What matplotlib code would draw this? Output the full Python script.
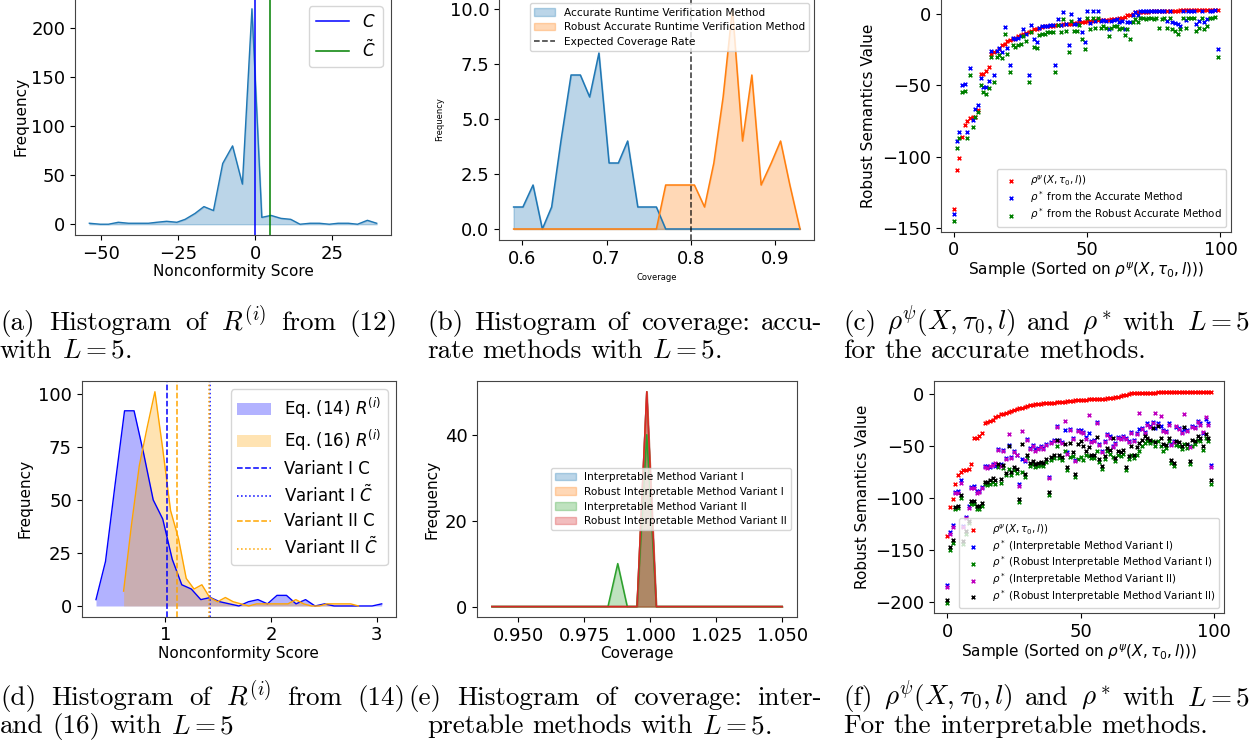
import numpy as np
import matplotlib
matplotlib.use('Agg')
import matplotlib.pyplot as plt
from matplotlib.ticker import FormatStrFormatter

W, H = 1255, 751

# (a) histogram of R^(i) from (12)
a_bins = [-53.8, -50.3, -47.6, -44.4, -41.1, -37.9, -34.6, -31.9, -28.7, -25.4,
          -22.7, -19.5, -16.6, -13.5, -10.5, -7.3, -4.1, -1.0, 2.2, 5.2,
          8.4, 11.6, 14.6, 17.9, 20.9, 24.1, 27.0, 30.3, 33.3, 36.5, 39.5]
a_counts = [1, 0, 0, 2, 1, 1, 1, 2, 3, 2, 5, 11, 18, 14, 62, 80, 41, 220, 7, 9,
            6, 5, 0, 1, 1, 0, 1, 1, 0, 4, 1]
a_C = 0.0
a_Ct = 4.9

# (b) coverage, accurate methods
b_bins = [0.590, 0.601, 0.613, 0.624, 0.635, 0.646, 0.658, 0.669, 0.680, 0.691,
          0.703, 0.714, 0.725, 0.737, 0.748, 0.759, 0.770, 0.782, 0.793, 0.804,
          0.816, 0.827, 0.838, 0.849, 0.861, 0.872, 0.883, 0.895, 0.906, 0.917, 0.929]
b_acc = [1, 1, 2, 0, 1, 4, 7, 7, 6, 8, 3, 3, 4, 1, 1, 1, 0, 0, 0, 0,
         0, 0, 0, 0, 0, 0, 0, 0, 0, 0, 0]
b_rob = [0, 0, 0, 0, 0, 0, 0, 0, 0, 0, 0, 0, 0, 0, 0, 0, 2, 2, 2, 2,
         1, 3, 6, 10, 4, 7, 2, 3, 4, 2, 0]
b_expected = 0.8

# (c) / (f) robust semantics, sorted samples
rho_psi = [-136.5, -109, -101, -86, -78, -75, -73, -72.5, -72, -67.5,
           -42.5, -42, -40, -37, -28, -27, -26, -24.5, -22, -21,
           -19, -18.5, -17.5, -17, -16, -15, -14, -13.5, -13, -12,
           -11, -10.5, -10, -9.5, -9, -8.8, -8.6, -8.4, -8.2, -8,
           -7.8, -7.6, -7.4, -7.2, -7, -6.6, -6.3, -6, -5.8, -5.6,
           -5.4, -5.2, -5, -4.8, -4.6, -4.5, -4.4, -4.3, -4.2, -4,
           -3.8, -3.5, -3.2, -2.9, -2.2, -1.2, -1, -0.5, 0.8, 1,
           1.1, 1.2, 1.3, 1.4, 1.5, 1.6, 1.7, 1.8, 1.8, 1.9,
           1.9, 2.0, 2.0, 2.1, 2.1, 2.2, 2.2, 2.3, 2.3, 2.4,
           2.4, 2.5, 2.5, 2.6, 2.6, 2.7, 2.7, 2.8, 2.8, 2.8]
c_accurate = [-140, -89, -83, -50, -49, -83, -38, -74.5, -67, -64,
              -45, -51, -51, -47, -26, -43, -26, -24, -27, -9.5,
              -24, -36, -17, -18, -17, -16, -11, -14, -43, -8,
              -18, -20, -10, -9, -9, -9, -8, -8, -36, -3.5,
              -8, 1, -7, -22, 0, -7, -7, -3.5, -13, -20,
              2, -6.5, 2, -5, 2, -5, -4.5, -5, -11, -5,
              -4.5, -4, -6, -5, -10.5, -6, -6, -1, 1, -1,
              1.5, 2, 1.5, 2, 2, 2, 2, 2, 1.5, 2,
              -5, 2, -6, -6.5, -7, -9, 2, -4.5, 2, 2,
              2, -7, -5, 2, -6, -4, 2, 2, 2.5, -25]
c_robust = [-145, -94, -87, -55, -54, -87, -43, -79, -72, -69,
            -50, -55, -56, -52, -30, -48, -30, -29, -31, -14,
            -28, -41, -22, -23, -22, -21, -16, -19, -48, -13,
            -23, -24, -15, -14, -14, -13, -13, -13, -41, -8,
            -13, -4, -12, -27, -5, -12, -12, -8, -18, -25,
            -3, -11, -3, -10, -3, -10, -9, -10, -16, -10,
            -9, -9, -11, -10, -15, -11, -18, -6, -4, -6,
            -3, -3, -4, -3, -3, -4, -3, -10, -4, -3,
            -10, -3, -11, -12, -14, -11, -3, -10, -3, -3,
            -3, -12, -10, -3, -11, -9, -3, -3, -2.5, -30]

# (d) histograms of R^(i) from (14) and (16)
d14_bins = [0.345, 0.435, 0.525, 0.615, 0.705, 0.795, 0.886, 0.976, 1.066, 1.156,
            1.246, 1.336, 1.426, 1.516, 1.606, 1.696, 1.786, 1.876, 1.966, 2.056,
            2.146, 2.236, 2.326, 2.416, 2.506, 2.596, 2.686, 2.776, 2.866, 2.956, 3.046]
d14_counts = [3, 21, 57, 92, 92, 72, 50, 41, 22, 10, 8, 3, 4, 2, 1, 0, 2, 3, 1, 5,
              5, 1, 3, 0, 1, 0, 0, 0, 0, 0, 1]
d16_bins = [0.606, 0.680, 0.754, 0.828, 0.902, 0.976, 1.050, 1.124, 1.198, 1.272,
            1.346, 1.420, 1.494, 1.568, 1.642, 1.716, 1.790, 1.864, 1.938, 2.012,
            2.086, 2.160, 2.234, 2.308, 2.382, 2.456, 2.530, 2.604, 2.678, 2.752, 2.826]
d16_counts = [7, 38, 66, 84, 101, 74, 45, 32, 13, 8, 10, 4, 2, 4, 2, 1, 0, 1, 1, 1,
              1, 1, 3, 1, 0, 0, 1, 1, 1, 1, 0]
d_C1, d_Ct1 = 1.016, 1.42
d_C2, d_Ct2 = 1.11, 1.41

# (e) coverage, interpretable methods
e_bins = [0.9400, 0.9437, 0.9473, 0.9510, 0.9547, 0.9583, 0.9620, 0.9657, 0.9693, 0.9730,
          0.9767, 0.9803, 0.9840, 0.9877, 0.9913, 0.9950, 0.9987, 1.0023, 1.0060, 1.0097,
          1.0133, 1.0170, 1.0207, 1.0243, 1.0280, 1.0317, 1.0353, 1.0390, 1.0427, 1.0463, 1.0500]
e_var1 = [0] * 16 + [50] + [0] * 14
e_rob1 = [0] * 16 + [50] + [0] * 14
e_var2 = [0] * 13 + [10, 0, 0, 40] + [0] * 14
e_rob2 = [0] * 16 + [50] + [0] * 14
e_labels = ['Interpretable Method Variant I', 'Robust Interpretable Method Variant I',
            'Interpretable Method Variant II', 'Robust Interpretable Method Variant II']

# (f) rho* for the interpretable methods
f_var1 = [-184, -133, -126, -94, -93, -83, -127, -118, -108, -89,
          -88, -93, -93, -89, -69, -69, -70, -67, -69, -53,
          -67, -54, -61, -49, -60, -55, -58, -86, -62, -64,
          -43, -52, -49, -53, -52, -50, -52, -48, -80, -46,
          -44, -30, -44, -46, -34, -56, -33, -42, -63, -34,
          -34, -36, -41, -37, -45, -44, -27, -48, -55, -45,
          -38, -40, -50, -47, -41, -42, -40, -42, -45, -36,
          -44, -37, -33, -32, -36, -28, -30, -27, -32, -28,
          -30, -34, -35, -28, -48, -45, -31, -32, -36, -33,
          -34, -50, -30, -31, -26, -28, -37, -24, -28, -68]
f_var2 = [-186, -135, -128, -95, -95, -85, -128, -119, -110, -90,
          -90, -95, -94, -90, -70, -71, -69, -68, -66, -54,
          -69, -55, -62, -38, -61, -56, -58, -88, -35, -63,
          -44, -53, -50, -55, -53, -51, -53, -49, -81, -47,
          -45, -31, -45, -47, -26, -57, -34, -43, -64, -35,
          -36, -37, -43, -20, -46, -45, -28, -49, -56, -46,
          -39, -42, -51, -48, -42, -43, -41, -43, -46, -37,
          -45, -38, -18, -33, -37, -29, -31, -28, -18, -29,
          -21, -35, -36, -29, -49, -46, -30, -33, -37, -19,
          -35, -51, -31, -32, -27, -29, -36, -22, -29, -70]
f_rob2 = [-198, -147, -140, -109, -108, -97, -141, -132, -122, -103,
          -103, -108, -108, -105, -84, -84, -83, -81, -83, -67,
          -82, -68, -76, -50, -75, -70, -72, -101, -48, -77,
          -58, -66, -64, -67, -66, -65, -66, -62, -94, -60,
          -58, -44, -58, -60, -48, -70, -47, -56, -77, -48,
          -45, -50, -55, -51, -58, -58, -41, -62, -69, -59,
          -52, -54, -42, -61, -55, -56, -54, -70, -59, -50,
          -58, -51, -47, -44, -40, -42, -44, -32, -46, -30,
          -42, -48, -49, -42, -63, -66, -45, -46, -50, -31,
          -48, -64, -44, -45, -40, -42, -50, -38, -42, -83]
f_rob1 = [-201, -150, -143, -111, -110, -100, -144, -135, -124, -106,
          -106, -111, -111, -108, -86, -87, -86, -84, -86, -70,
          -85, -71, -78, -72, -78, -73, -76, -104, -75, -80,
          -61, -69, -67, -70, -69, -68, -69, -65, -97, -63,
          -61, -50, -61, -63, -55, -73, -60, -59, -80, -62,
          -60, -63, -58, -59, -61, -61, -55, -65, -72, -62,
          -55, -57, -60, -64, -58, -59, -57, -73, -62, -58,
          -61, -58, -55, -50, -47, -45, -47, -45, -50, -45,
          -50, -55, -52, -45, -66, -69, -49, -50, -53, -48,
          -52, -67, -50, -48, -44, -45, -54, -42, -45, -86]

rho_lbl = r'$\rho^{\psi}(X, \tau_0, l))$'
sample_lbl = r'Sample (Sorted on $\rho^{\psi}(X, \tau_0, l)$))'

plt.rcParams['axes.edgecolor'] = '#444444'

fig = plt.figure(figsize=(W / 100, H / 100), dpi=100)


def px_axes(l, t, r, b):
    ax = fig.add_axes([l / W, 1 - b / H, (r - l) / W, (b - t) / H])
    ax.tick_params(labelsize=13)
    return ax


# ---- (a)
ax = px_axes(75, -2, 391, 235)
ax.plot(a_bins, a_counts, color='C0', lw=1)
ax.fill_between(a_bins, a_counts, color='C0', alpha=0.3)
ax.axvline(a_C, color='blue', lw=1.1, label='$C$')
ax.axvline(a_Ct, color='green', lw=1.1, label=r'$\tilde{C}$')
ax.set_xticks([-50, -25, 0, 25])
ax.set_yticks([0, 50, 100, 150, 200])
ax.set_xlabel('Nonconformity Score', fontsize=11, labelpad=1)
ax.set_ylabel('Frequency', fontsize=11, labelpad=2)
ax.legend(loc='upper right', fontsize=12)

# ---- (b)
ax = px_axes(499.3, -2, 814.3, 240)
ax.plot(b_bins, b_acc, color='C0', lw=1.1)
ax.fill_between(b_bins, b_acc, color='C0', alpha=0.3, label='Accurate Runtime Verification Method')
ax.plot(b_bins, b_rob, color='C1', lw=1.1)
ax.fill_between(b_bins, b_rob, color='C1', alpha=0.3, label='Robust Accurate Runtime Verification Method')
ax.axvline(b_expected, color='k', ls='--', lw=1.1, alpha=0.8, label='Expected Coverage Rate')
ax.set_xticks([0.6, 0.7, 0.8, 0.9])
ax.set_yticks([0, 2.5, 5, 7.5, 10])
ax.yaxis.set_major_formatter(FormatStrFormatter('%.1f'))
ax.set_xlabel('Coverage', fontsize=6)
ax.set_ylabel('Frequency', fontsize=6)
ax.legend(loc='upper right', fontsize=7.6, labelspacing=0.45)

# ---- (c)
ax = px_axes(940.7, -1, 1231, 231.7)
idx = np.arange(len(rho_psi))
ax.scatter(idx, rho_psi, marker='x', s=7, lw=1.1, color='red', label=rho_lbl)
ax.scatter(idx, c_accurate, marker='x', s=7, lw=1.1, color='blue', label=r'$\rho^*$ from the Accurate Method')
ax.scatter(idx, c_robust, marker='x', s=7, lw=1.1, color='green', label=r'$\rho^*$ from the Robust Accurate Method')
ax.set_xticks([0, 50, 100])
ax.set_yticks([0, -50, -100, -150])
ax.set_xlabel(sample_lbl, fontsize=11, labelpad=1)
ax.set_ylabel('Robust Semantics Value', fontsize=11)
ax.legend(loc='lower right', fontsize=7.4, labelspacing=0.15)

# ---- (d)
ax = px_axes(81.7, 381, 396, 616.7)
ax.plot(d14_bins, d14_counts, color='blue', lw=1)
ax.fill_between(d14_bins, d14_counts, color='blue', alpha=0.3, lw=0, label='Eq. (14) $R^{(i)}$')
ax.plot(d16_bins, d16_counts, color='orange', lw=1)
ax.fill_between(d16_bins, d16_counts, color='orange', alpha=0.3, lw=0, label='Eq. (16) $R^{(i)}$')
ax.axvline(d_C1, color='blue', ls='--', lw=1.1, label='Variant I C')
ax.axvline(d_Ct1, color='blue', ls=':', lw=1.1, label=r'Variant I $\tilde{C}$')
ax.axvline(d_C2, color='orange', ls='--', lw=1.1, label='Variant II C')
ax.axvline(d_Ct2, color='orange', ls=':', lw=1.1, label=r'Variant II $\tilde{C}$')
ax.set_xticks([1, 2, 3])
ax.set_yticks([0, 25, 50, 75, 100])
ax.set_xlabel('Nonconformity Score', fontsize=11, labelpad=1)
ax.set_ylabel('Frequency', fontsize=11)
ax.legend(loc='upper right', fontsize=12, labelspacing=0.4)

# ---- (e)
ax = px_axes(477.3, 381, 796.7, 617.3)
for k, (vals, lab) in enumerate(zip([e_var1, e_rob1, e_var2, e_rob2], e_labels)):
    ax.plot(e_bins, vals, color='C%d' % k, lw=1.1)
    ax.fill_between(e_bins, vals, color='C%d' % k, alpha=0.3, label=lab)
ax.set_xticks([0.95, 0.975, 1.0, 1.025, 1.05])
ax.xaxis.set_major_formatter(FormatStrFormatter('%.3f'))
ax.set_yticks([0, 20, 40])
ax.set_xlabel('Coverage', fontsize=11, labelpad=1)
ax.set_ylabel('Frequency', fontsize=11)
ax.legend(loc='center right', fontsize=7.6, labelspacing=0.45)

# ---- (f)
ax = px_axes(934.3, 381, 1224.3, 613.3)
ax.scatter(idx, rho_psi, marker='x', s=7, lw=1.1, color='red', label=rho_lbl)
ax.scatter(idx, f_var1, marker='x', s=7, lw=1.1, color='blue', label=r'$\rho^*$ (Interpretable Method Variant I)')
ax.scatter(idx, f_rob1, marker='x', s=7, lw=1.1, color='green', label=r'$\rho^*$ (Robust Interpretable Method Variant I)')
ax.scatter(idx, f_var2, marker='x', s=7, lw=1.1, color='m', label=r'$\rho^*$ (Interpretable Method Variant II)')
ax.scatter(idx, f_rob2, marker='x', s=7, lw=1.1, color='k', label=r'$\rho^*$ (Robust Interpretable Method Variant II)')
ax.set_xticks([0, 50, 100])
ax.set_yticks([0, -50, -100, -150, -200])
ax.set_xlabel(sample_lbl, fontsize=11, labelpad=1)
ax.set_ylabel('Robust Semantics Value', fontsize=11)
ax.legend(loc='lower right', fontsize=7.4, labelspacing=0.1)


# ---- captions (LaTeX-like, first line justified)
CAP_FS = 19.5
renderer = fig.canvas.get_renderer()


def caption_line(x0, x1, y, words, justify=True):
    texts = [fig.text(0, 0, w, fontsize=CAP_FS, family='cmr10', math_fontfamily='cm',
                      va='baseline', ha='left') for w in words]
    widths = [t.get_window_extent(renderer).width for t in texts]
    if justify and len(words) > 1:
        gap = (x1 - x0 - sum(widths)) / (len(words) - 1)
    else:
        gap = CAP_FS * 0.333 * 100 / 72
    x = x0
    for t, w in zip(texts, widths):
        t.set_position((x / W, 1 - y / H))
        x += w + gap


caption_line(0, 398, 330, ['(a)', 'Histogram', 'of', '$R^{(i)}$', 'from', '(12)'])
caption_line(0, 398, 358, ['with', '$L = 5$.'], justify=False)
caption_line(427, 822, 330, ['(b)', 'Histogram', 'of', 'coverage:', 'accu-'])
caption_line(427, 822, 358, ['rate', 'methods', 'with', '$L = 5$.'], justify=False)
caption_line(843, 1250, 330, ['(c)', r'$\rho^{\psi}(X, \tau_0, l)$', 'and', r'$\rho^*$', 'with', '$L = 5$'])
caption_line(843, 1250, 358, ['for', 'the', 'accurate', 'methods.'], justify=False)
caption_line(0, 405, 705, ['(d)', 'Histogram', 'of', '$R^{(i)}$', 'from', '(14)'])
caption_line(0, 405, 733, ['and', '(16)', 'with', '$L = 5$'], justify=False)
caption_line(408, 822, 705, ['(e)', 'Histogram', 'of', 'coverage:', 'inter-'])
caption_line(427, 822, 733, ['pretable', 'methods', 'with', '$L = 5$.'], justify=False)
caption_line(843, 1250, 705, ['(f)', r'$\rho^{\psi}(X, \tau_0, l)$', 'and', r'$\rho^*$', 'with', '$L = 5$'])
caption_line(843, 1250, 733, ['For', 'the', 'interpretable', 'methods.'], justify=False)

fig.savefig('out.png', dpi=100)
